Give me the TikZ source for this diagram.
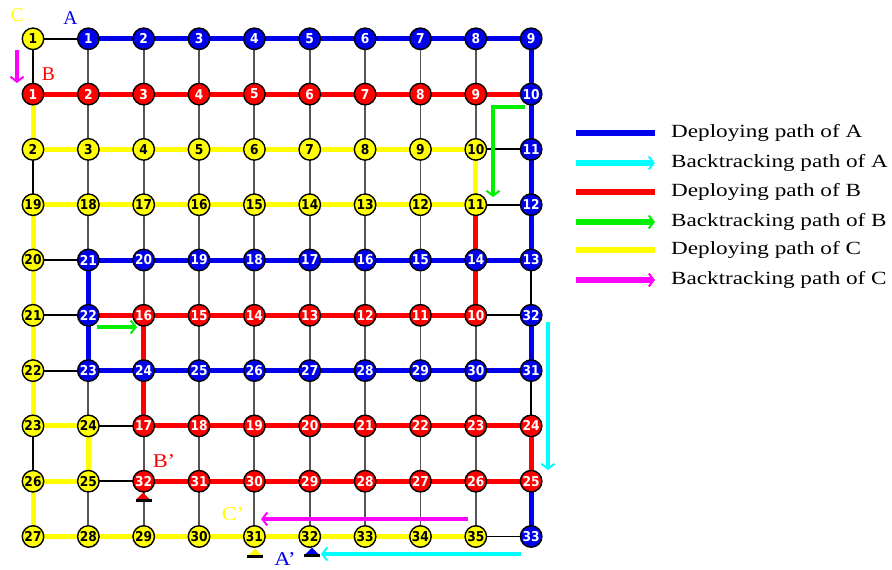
\documentclass[tikz,border=0pt]{standalone}
\usepackage{fontspec}
\usepackage{graphicx}
\setmainfont{Liberation Serif}
\newfontfamily\numfont{DejaVu Sans}[FakeStretch=0.9]
\usetikzlibrary{arrows.meta,backgrounds}

\definecolor{pathA}{RGB}{0,0,235}
\definecolor{pathB}{RGB}{255,0,0}
\definecolor{pathC}{RGB}{255,255,0}
\definecolor{backA}{RGB}{0,255,255}
\definecolor{backB}{RGB}{0,240,0}
\definecolor{backC}{RGB}{255,0,255}
\definecolor{gridgray}{RGB}{85,85,85}

% one row of the 10x10 grid: #1 = row index, #2 = style/label list
\newcommand\gridrow[2]{%
  \foreach \s/\t [count=\c from 0] in {#2}
    \node[\s] (n\c-#1) at ({33+55.35*\c},{38.8+55.3*#1}) {\t};}

\begin{document}
\begin{tikzpicture}[x=1pt,y=-1pt,
  vertex/.style={circle,draw=black,line width=1.4pt,minimum size=21.5pt,inner sep=0pt,
    font=\numfont\bfseries\fontsize{13.6}{13.6}\selectfont},
  anode/.style={vertex,fill=pathA,text=white},
  bnode/.style={vertex,fill=pathB,text=white},
  cnode/.style={vertex,fill=pathC,text=black},
  gridline/.style={draw=gridgray,line width=1.9pt},
  joinline/.style={draw=black,line width=1.9pt},
  deployA/.style={draw=pathA,line width=5pt},
  deployB/.style={draw=pathB,line width=5pt},
  deployC/.style={draw=pathC,line width=5pt},
  backarrow/.style={line width=4.5pt,-{Straight Barb[length=5pt,width=13pt,line width=2pt]}},
  tagfont/.style={font=\fontsize{19.5}{19.5}\selectfont,inner sep=0pt},
  legtext/.style={anchor=west,inner sep=0pt,font=\fontsize{18.6}{18.6}\selectfont},
]
\useasboundingbox (0,0) rectangle (892,570);

% ---- grid nodes ----
\gridrow{0}{cnode/1,anode/1,anode/2,anode/3,anode/4,anode/5,anode/6,anode/7,anode/8,anode/9}
\gridrow{1}{bnode/1,bnode/2,bnode/3,bnode/4,bnode/5,bnode/6,bnode/7,bnode/8,bnode/9,anode/10}
\gridrow{2}{cnode/2,cnode/3,cnode/4,cnode/5,cnode/6,cnode/7,cnode/8,cnode/9,cnode/10,anode/11}
\gridrow{3}{cnode/19,cnode/18,cnode/17,cnode/16,cnode/15,cnode/14,cnode/13,cnode/12,cnode/11,anode/12}
\gridrow{4}{cnode/20,anode/21,anode/20,anode/19,anode/18,anode/17,anode/16,anode/15,anode/14,anode/13}
\gridrow{5}{cnode/21,anode/22,bnode/16,bnode/15,bnode/14,bnode/13,bnode/12,bnode/11,bnode/10,anode/32}
\gridrow{6}{cnode/22,anode/23,anode/24,anode/25,anode/26,anode/27,anode/28,anode/29,anode/30,anode/31}
\gridrow{7}{cnode/23,cnode/24,bnode/17,bnode/18,bnode/19,bnode/20,bnode/21,bnode/22,bnode/23,bnode/24}
\gridrow{8}{cnode/26,cnode/25,bnode/32,bnode/31,bnode/30,bnode/29,bnode/28,bnode/27,bnode/26,bnode/25}
\gridrow{9}{cnode/27,cnode/28,cnode/29,cnode/30,cnode/31,cnode/32,cnode/33,cnode/34,cnode/35,anode/33}

% ---- links and paths, under the nodes ----
\begin{pgfonlayer}{background}
  \foreach \r in {0,...,9} \draw[gridline] (n0-\r.center) -- (n9-\r.center);
  \foreach \c in {0,...,9} \draw[gridline] (n\c-0.center) -- (n\c-9.center);
  \foreach \a/\b in {0-0/1-0,0-0/0-1,0-2/0-3,8-2/9-2,8-3/9-3,0-4/1-4,0-5/1-5,8-5/9-5,
      0-6/1-6,1-7/2-7,0-7/0-8,1-8/2-8,8-9/9-9,9-4/9-5,9-6/9-7}
    \draw[joinline] (n\a.center) -- (n\b.center);
  % deploying path of A
  \draw[deployA] (n1-0.center) -- (n9-0.center) -- (n9-4.center) -- (n1-4.center)
    -- (n1-6.center) -- (n9-6.center) -- (n9-5.center);
  \draw[deployA] (n9-8.center) -- (n9-9.center);
  % deploying path of B
  \draw[deployB] (n0-1.center) -- (n9-1.center);
  \draw[deployB] (n8-3.center) -- (n8-5.center) -- (n1-5.center);
  \draw[deployB] (n2-5.center) -- (n2-7.center) -- (n9-7.center) -- (n9-8.center) -- (n2-8.center);
  % deploying path of C
  \draw[deployC] (n0-1.center) -- (n0-2.center) -- (n8-2.center) -- (n8-3.center) -- (n0-3.center)
    -- (n0-7.center) -- (n1-7.center) -- (n1-8.center) -- (n0-8.center) -- (n0-9.center) -- (n8-9.center);
\end{pgfonlayer}

% ---- robot tags ----
\node[tagfont,text=pathC] (tagC) at (17.5,15) {C};
\node[tagfont,text=pathA] (tagA) at (70.5,18.5) {A};
\node[tagfont,text=pathB] (tagB) at (48.5,74) {B};
\node[tagfont,text=pathB] (tagBe) at (164,461) {\scalebox{1.15}[1]{B’}};
\node[tagfont,text=pathC] (tagCe) at (233,514) {\scalebox{1.15}[1]{C’}};
\node[tagfont,text=pathA] (tagAe) at (285,559) {\scalebox{1.15}[1]{A’}};

% ---- end markers ----
\fill[pathB] (136.5,499) -- (143,492.5) -- (149.5,499) -- cycle;
\draw[line width=2.2pt] (135.5,500.5) -- (152,500.5);
\fill[pathC] (248.5,555) -- (255,548.5) -- (261.5,555) -- cycle;
\draw[line width=2.2pt] (247,556.5) -- (263,556.5);
\fill[pathA] (305.5,554) -- (312,547.5) -- (318.5,554) -- cycle;
\draw[line width=2.2pt] (304,555.5) -- (320,555.5);

% ---- backtracking arrows ----
\coordinate (cS) at (17,50);   \coordinate (cE) at (17,83);
\draw[backarrow,draw=backC] (cS) -- (cE);
\coordinate (bS) at (525,107); \coordinate (bK) at (493,107); \coordinate (bE) at (493,197);
\draw[backarrow,draw=backB] (bS) -- (bK) -- (bE);
\coordinate (b2S) at (97,327); \coordinate (b2E) at (137,327);
\draw[backarrow,draw=backB] (b2S) -- (b2E);
\coordinate (aS) at (548,322); \coordinate (aE) at (548,470);
\draw[backarrow,draw=backA] (aS) -- (aE);
\coordinate (a2S) at (521,554); \coordinate (a2E) at (321,554);
\draw[backarrow,draw=backA] (a2S) -- (a2E);
\coordinate (c2S) at (468,519); \coordinate (c2E) at (261,519);
\draw[backarrow,draw=backC] (c2S) -- (c2E);

% ---- legend ----
\foreach \y/\sty/\t [count=\i] in {
    133/{draw=pathA,line width=6pt}/Deploying path of A,
    163/{backarrow,draw=backA,line width=6pt}/Backtracking path of A,
    192/{draw=pathB,line width=6pt}/Deploying path of B,
    222/{backarrow,draw=backB,line width=6pt}/Backtracking path of B,
    250/{draw=pathC,line width=6pt}/Deploying path of C,
    280/{backarrow,draw=backC,line width=6pt}/Backtracking path of C}{
  \coordinate (ls\i) at (576,\y);
  \coordinate (le\i) at (655,\y);
  \draw[style/.expand once=\sty] (ls\i) -- (le\i);
  \node[legtext] (lt\i) at (671,\y) {\scalebox{1.245}[1]{\t}};
}
\end{tikzpicture}
\end{document}
